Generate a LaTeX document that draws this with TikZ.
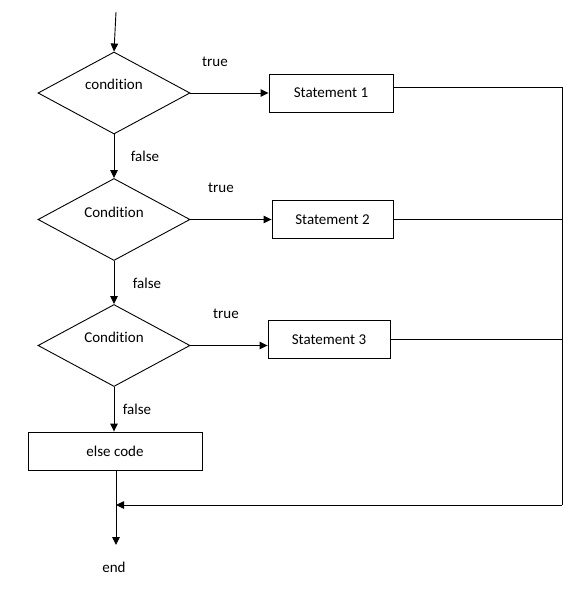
\documentclass[tikz,border=0pt]{standalone}
\usepackage{fontspec}
\setmainfont[Ligatures=CommonOff]{Carlito}
\usetikzlibrary{shapes.geometric, arrows.meta}

\begin{document}
\begin{tikzpicture}[
  x=1pt, y=-1pt,
  every node/.style={font=\fontsize{15}{18}\selectfont},
  decision/.style={diamond, draw, aspect=1.85, inner sep=0pt, minimum width=152pt, minimum height=82pt},
  stmt/.style={rectangle, draw, minimum height=38pt},
  flow/.style={-{Triangle[length=8pt, width=7.5pt]}},
  line width=0.9pt
]
  \useasboundingbox (0,0) rectangle (581,596);

  \coordinate (start) at (116,12);

  \node[decision, label={[yshift=9pt]center:condition}] (c1) at (114,93) {};
  \node[decision, label={[yshift=7pt]center:Condition}] (c2) at (114,219.5) {};
  \node[decision, label={[yshift=8pt]center:Condition}] (c3) at (114,345.5) {};

  \node[stmt, minimum width=124pt] (s1) at (331,93) {Statement 1};
  \node[stmt, minimum width=121pt] (s2) at (332.5,219.5) {Statement 2};
  \node[stmt, minimum width=122pt] (s3) at (329,339.5) {Statement 3};

  \node[stmt, minimum width=174pt] (other) at (115,451) {else code};

  \coordinate (railtop) at (562,87);
  \coordinate (railbot) at (562,505);
  \coordinate (join) at (116,505);
  \coordinate (stop) at (116,545);

  \node (finish) at (114,567) {end};

  % labels on the branches
  \node (t1) at (215,62) {true};
  \node (t2) at (221,188) {true};
  \node (t3) at (226,314) {true};
  \node (f1) at (145,156) {false};
  \node (f2) at (147,283) {false};
  \node (f3) at (137,409) {false};

  \draw[flow] (start) -- (c1.north);
  \draw[flow] (c1.south) -- (c2.north);
  \draw[flow] (c2.south) -- (c3.north);
  \draw[flow] (c3.south) -- (c3.south |- other.north);

  \draw[flow] (c1.east) -- (s1.west);
  \draw[flow] (c2.east) -- (s2.west);
  \draw[flow] (c3.east) -- (c3.east -| s3.west);

  \draw ([yshift=6pt]s1.east) -- (railtop) -- (railbot);
  \draw (s2.east) -- (s2.east -| railtop);
  \draw (s3.east) -- (s3.east -| railtop);

  \draw[flow] (railbot) -- (join);
  \draw[flow] (other.south -| join) -- (stop);
\end{tikzpicture}
\end{document}
